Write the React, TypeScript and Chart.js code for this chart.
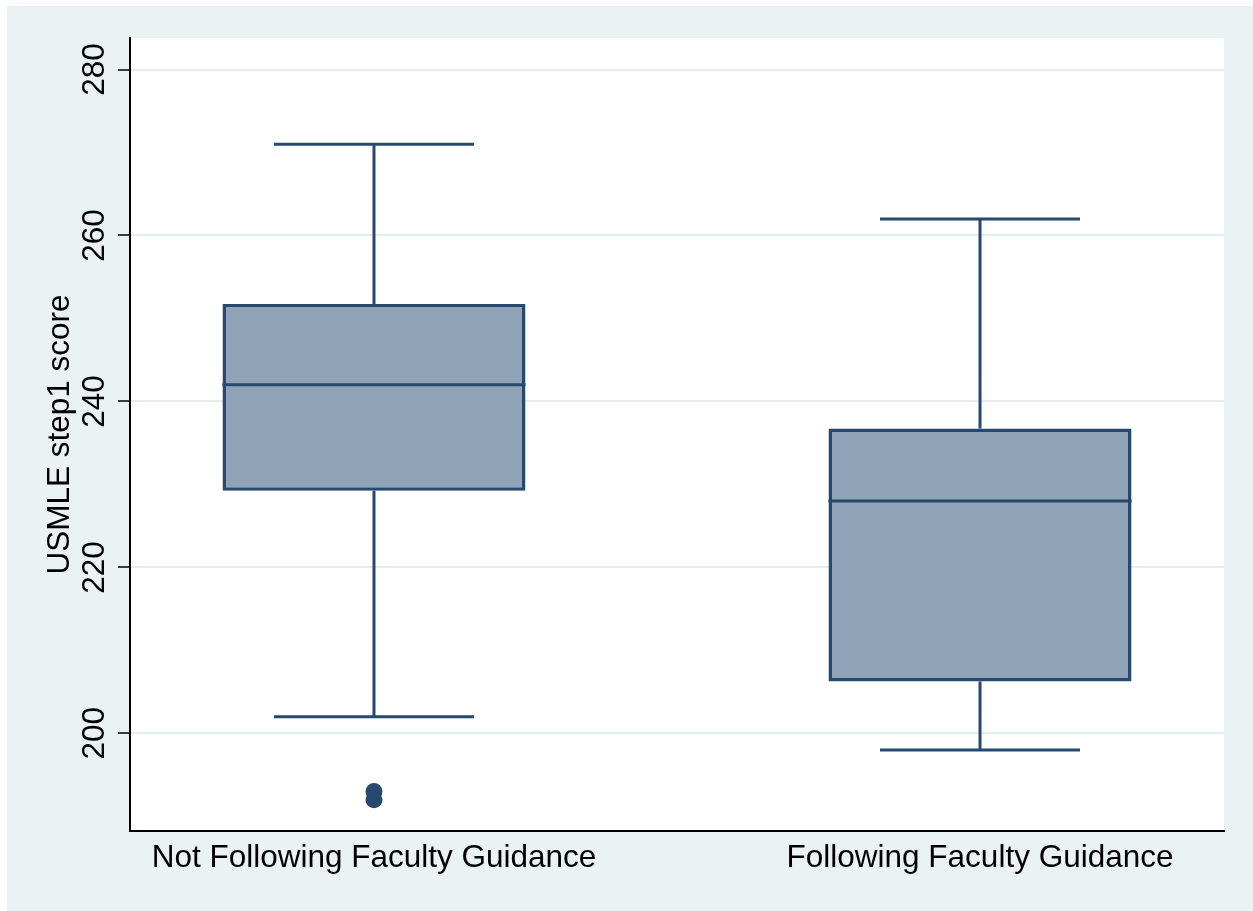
import React, { useEffect, useRef } from "react";
import { Chart, registerables } from "chart.js";

Chart.register(...registerables);

const categories = ["Not Following Faculty Guidance", "Following Faculty Guidance"];
const whiskerLow = [202, 198];
const q1 = [229.25, 206.25];
const median = [242, 228];
const q3 = [251.75, 236.75];
const whiskerHigh = [271, 262];
const outlierGroup = [0, 0];
const outlierValues = [193, 192];
const yTicks = [200, 220, 240, 260, 280];

const NAVY = "#27496e";
const FILL = "#91a3b6";
const BG = "#eaf2f3";
const GRID = "#e4eef0";
const FONT = "'Liberation Sans', Arial, Helvetica, sans-serif";
const FONT_SIZE = 31.5;

const BOX_HALF = 0.25;
const CAP_HALF = 0.165;

const plotBackground = {
  id: "plotBackground",
  beforeDraw(chart: any) {
    const { ctx, chartArea } = chart;
    ctx.save();
    ctx.fillStyle = "#ffffff";
    ctx.fillRect(chartArea.left, chartArea.top, chartArea.right - chartArea.left, chartArea.bottom - chartArea.top);
    ctx.restore();
  },
};

export default function App() {
  const ref = useRef<HTMLCanvasElement | null>(null);

  useEffect(() => {
    if (!ref.current) return;

    const lineData: any[] = [];
    categories.forEach((_, i) => {
      lineData.push({ x: i, y: q3[i] }, { x: i, y: whiskerHigh[i] }, { x: i, y: null });
      lineData.push({ x: i - CAP_HALF, y: whiskerHigh[i] }, { x: i + CAP_HALF, y: whiskerHigh[i] }, { x: i, y: null });
      lineData.push({ x: i, y: q1[i] }, { x: i, y: whiskerLow[i] }, { x: i, y: null });
      lineData.push({ x: i - CAP_HALF, y: whiskerLow[i] }, { x: i + CAP_HALF, y: whiskerLow[i] }, { x: i, y: null });
      lineData.push({ x: i - BOX_HALF, y: median[i] }, { x: i + BOX_HALF, y: median[i] }, { x: i, y: null });
    });

    const chart = new Chart(ref.current, {
      type: "bar",
      data: {
        datasets: [
          {
            type: "bar",
            order: 2,
            data: categories.map((_, i) => ({ x: i, y: [q1[i], q3[i]] })) as any,
            backgroundColor: FILL,
            borderColor: NAVY,
            borderWidth: 3.5,
            borderSkipped: false,
            categoryPercentage: 1,
            barPercentage: 0.5,
          } as any,
          {
            type: "line",
            order: 1,
            data: lineData,
            borderColor: NAVY,
            borderWidth: 3,
            pointRadius: 0,
            spanGaps: false,
            fill: false,
            tension: 0,
          } as any,
          {
            type: "scatter",
            order: 0,
            data: outlierValues.map((v, k) => ({ x: outlierGroup[k], y: v })),
            pointRadius: 8.5,
            pointBackgroundColor: NAVY,
            pointBorderWidth: 0,
            showLine: false,
          } as any,
        ],
      },
      options: {
        animation: false,
        responsive: false,
        devicePixelRatio: 1,
        layout: { padding: { left: 0, top: 32, right: 29, bottom: 0 } },
        plugins: { legend: { display: false }, tooltip: { enabled: false } },
        scales: {
          x: {
            type: "linear",
            offset: false,
            min: -0.4026,
            max: 1.4026,
            grid: { display: false, drawTicks: false },
            border: { display: true, color: "#000", width: 2 },
            afterBuildTicks: (scale: any) => {
              scale.ticks = categories.map((_, i) => ({ value: i }));
            },
            afterFit: (scale: any) => {
              scale.height = 80;
            },
            ticks: {
              autoSkip: false,
              maxRotation: 0,
              minRotation: 0,
              padding: 8,
              color: "#000",
              font: { size: FONT_SIZE, family: FONT },
              callback: (v: any) => categories[v as number] ?? "",
            },
          },
          y: {
            type: "linear",
            min: 188.23,
            max: 283.8,
            afterBuildTicks: (scale: any) => {
              scale.ticks = yTicks.map((v) => ({ value: v }));
            },
            afterFit: (scale: any) => {
              scale.width = 123;
            },
            grid: {
              color: GRID,
              lineWidth: 2,
              tickColor: "#000",
              tickWidth: 1.5,
              tickLength: 12,
              drawTicks: true,
            },
            border: { display: true, color: "#000", width: 2 },
            ticks: {
              minRotation: 90,
              maxRotation: 90,
              crossAlign: "center",
              padding: -4,
              color: "#000",
              font: { size: FONT_SIZE, family: FONT },
            },
            title: {
              display: true,
              text: "USMLE step1 score",
              color: "#000",
              font: { size: FONT_SIZE, family: FONT },
              padding: { top: 34, bottom: 0 },
            },
          },
        },
      },
      plugins: [plotBackground],
    });

    return () => chart.destroy();
  }, []);

  return (
    <div style={{ position: "fixed", left: 0, top: 0, width: 1253, height: 911, background: "#fff" }}>
      <div style={{ position: "absolute", left: 7, top: 6, width: 1246, height: 905, background: BG }}>
        <canvas ref={ref} width={1246} height={905} style={{ display: "block", width: 1246, height: 905 }} />
      </div>
    </div>
  );
}
